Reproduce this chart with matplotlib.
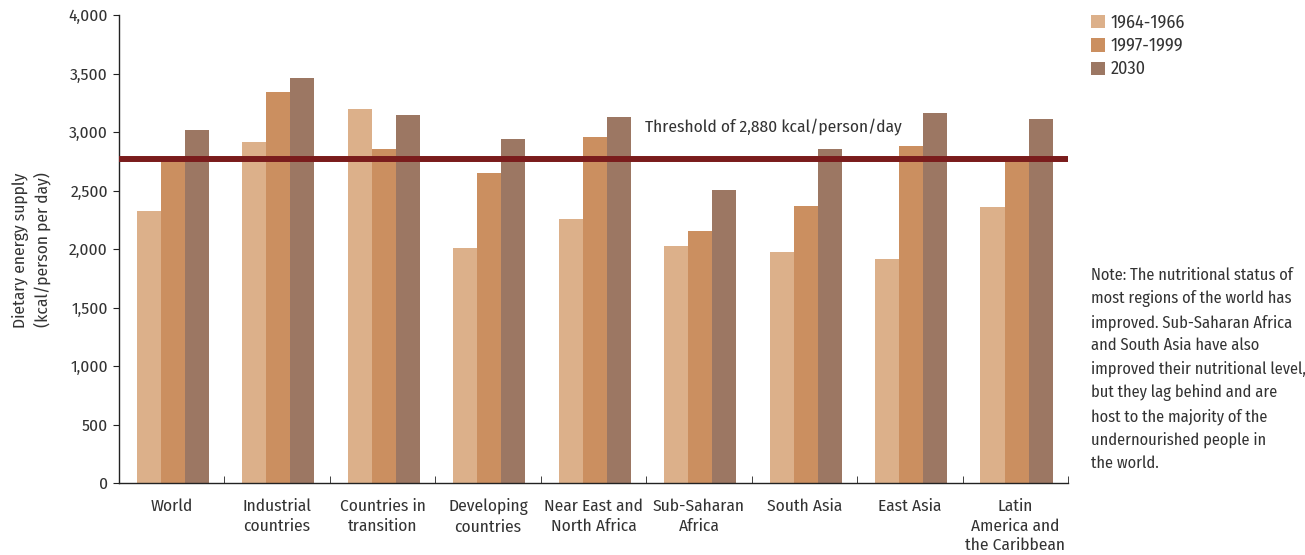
import matplotlib
matplotlib.use("Agg")
import matplotlib.pyplot as plt
import numpy as np

# data
regions = ["World", "Industrial\ncountries", "Countries in\ntransition",
           "Developing\ncountries", "Near East and\nNorth Africa", "Sub-Saharan\nAfrica",
           "South Asia", "East Asia", "Latin\nAmerica and\nthe Caribbean"]
periods = ["1964-1966", "1997-1999", "2030"]
kcal_1964 = [2326, 2918, 3193, 2009, 2258, 2026, 1974, 1914, 2361]
kcal_1997 = [2764, 3339, 2858, 2652, 2961, 2155, 2369, 2884, 2781]
kcal_2030 = [3013, 3459, 3142, 2944, 3124, 2506, 2858, 3159, 3107]
threshold_level = 2766  # where the line is drawn in the source
threshold_text = "Threshold of 2,880 kcal/person/day"
note_text = ("Note: The nutritional status of\nmost regions of the world has\n"
             "improved. Sub-Saharan Africa\nand South Asia have also\n"
             "improved their nutritional level,\nbut they lag behind and are\n"
             "host to the majority of the\nundernourished people in\nthe world.")

colors = ["#DCB08A", "#CB8F60", "#9C7763"]
text_col = "#333333"

# condensed humanist font, falls back if missing
plt.rcParams['font.family'] = ['Fira Sans Condensed', 'Roboto Condensed', 'Liberation Sans', 'DejaVu Sans']
plt.rcParams['font.size'] = 12.5

fig = plt.figure(figsize=(13.05, 5.55), dpi=100)
ax = fig.add_axes([119 / 1305, (555 - 483) / 555, (1068 - 119) / 1305, (483 - 15) / 555])

x = np.arange(len(regions))
w = 0.228
for i, (vals, col) in enumerate(zip([kcal_1964, kcal_1997, kcal_2030], colors)):
    ax.bar(x + (i - 1) * w + 0.012, vals, width=w, color=col, label=periods[i], zorder=2)

ax.axhline(threshold_level, color="#7A1C1C", lw=4.3, zorder=3)
ax.text(4.49, 3050, threshold_text, color=text_col, va="center", ha="left")

ax.set_xlim(-0.5, 8.5)
ax.set_ylim(0, 4000)
ax.set_yticks(np.arange(0, 4001, 500))
ax.set_yticklabels([f"{v:,}" for v in range(0, 4001, 500)], color=text_col)
ax.set_xticks(x)
ax.set_xticklabels(regions, color=text_col, linespacing=1.3, va="top")
ax.tick_params(axis="x", length=0, pad=11)
ax.set_xticks(np.arange(0.5, 8.6, 1), minor=True)
ax.tick_params(axis="x", which="minor", direction="in", length=5, color="#222222")
ax.tick_params(axis="y", direction="out", length=4, color="#222222", pad=4)
for s in ["top", "right"]:
    ax.spines[s].set_visible(False)
for s in ["left", "bottom"]:
    ax.spines[s].set_color("#222222")
    ax.spines[s].set_linewidth(1.0)

fig.text(0.024, (555 - 250) / 555, "Dietary energy supply\n(kcal/person per day)",
         rotation=90, ha="center", va="center", color=text_col, linespacing=1.3)

leg = fig.legend(loc="upper left", bbox_to_anchor=(1091 / 1305, 1 - 14 / 555), frameon=False,
                 handlelength=0.75, handleheight=0.75, handletextpad=0.35, labelspacing=0.3,
                 borderaxespad=0, borderpad=0, fontsize=13)
for t in leg.get_texts():
    t.set_color(text_col)

fig.text(1091 / 1305, 1 - 267 / 555, note_text, ha="left", va="top", color=text_col,
         fontsize=11.8, linespacing=1.55)

fig.savefig("out.png", dpi=100)
